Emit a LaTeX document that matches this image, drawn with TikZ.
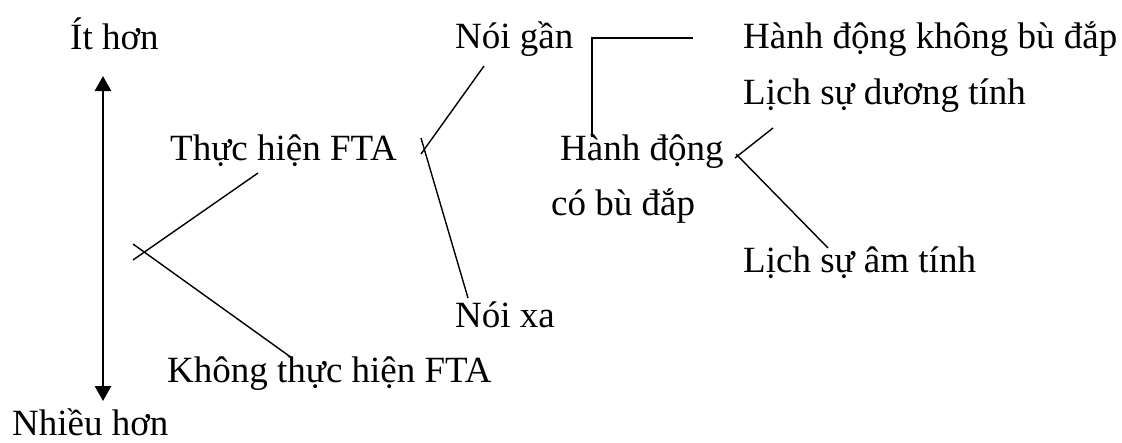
\documentclass[tikz,border=0pt]{standalone}
\usepackage{fontspec}
\setmainfont{Liberation Serif}
\usetikzlibrary{arrows.meta}
\begin{document}
\begin{tikzpicture}[x=1pt,y=-1pt,
  lbl/.style={anchor=base west,inner sep=0pt,font=\fontsize{37}{44}\selectfont},
  link/.style={line width=1.4pt},
  axisline/.style={line width=2.6pt,{Triangle[length=15pt,width=16pt]}-{Triangle[length=15pt,width=16pt]}}]
\useasboundingbox (0,0) rectangle (1122,442);
% labels
\node[lbl] (lt) at (70,49) {Ít hơn};
\node[lbl] (nh) at (12,435) {Nhiều hơn};
\node[lbl] (th) at (170,160) {Thực hiện FTA};
\node[lbl] (kh) at (167,382) {Không thực hiện FTA};
\node[lbl] (ng) at (455,48) {Nói gần};
\node[lbl] (nx) at (455,327) {Nói xa};
\node[lbl] (hd) at (560,160) {Hành động};
\node[lbl] (cb) at (551,215) {có bù đắp};
\node[lbl] (hk) at (743,48) {Hành động không bù đắp};
\node[lbl] (ld) at (743,104) {Lịch sự dương tính};
\node[lbl] (la) at (743,272) {Lịch sự âm tính};
% end points of the branch lines
\coordinate (sTop) at (103,76);
\coordinate (sBot) at (103,401);
\coordinate (a1) at (133,260);
\coordinate (a2) at (258,173);
\coordinate (b1) at (133,244);
\coordinate (b2) at (292,358);
\coordinate (c1) at (421,154);
\coordinate (c2) at (484,66);
\coordinate (d1) at (421,138);
\coordinate (d2) at (468,298);
\coordinate (e1) at (592,137);
\coordinate (e2) at (592,38);
\coordinate (e3) at (693,38);
\coordinate (f1) at (735,158);
\coordinate (f2) at (773,128);
\coordinate (g1) at (736,154);
\coordinate (g2) at (828,248);
% directness scale
\draw[axisline] (sTop) -- (sBot);
% branches
\draw[link] (a1) -- (a2);
\draw[link] (b1) -- (b2);
\draw[link] (c1) -- (c2);
\draw[link] (d1) -- (d2);
\draw[link] (e1) -- (e2) -- (e3);
\draw[link] (f1) -- (f2);
\draw[link] (g1) -- (g2);
\end{tikzpicture}
\end{document}
